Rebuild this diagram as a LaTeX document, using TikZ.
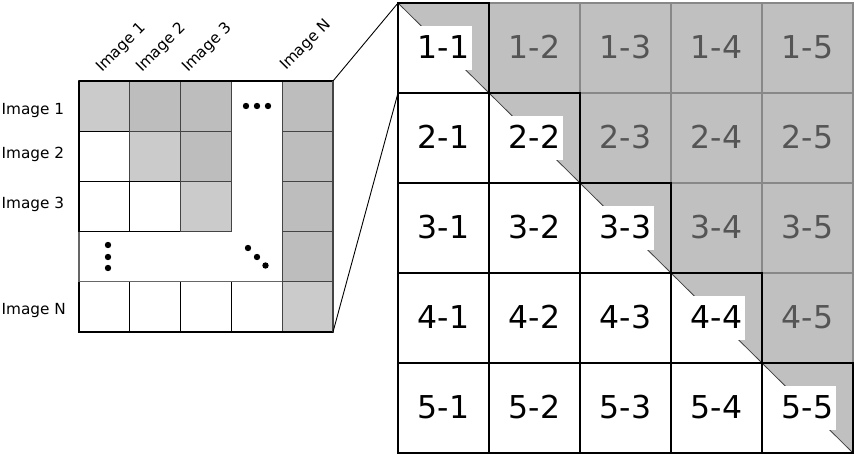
\documentclass[tikz,border=0pt]{standalone}
\usepackage{fontspec}
\setmainfont{DejaVu Sans}
\definecolor{upfill}{HTML}{C0C0C0}
\definecolor{upline}{HTML}{888888}
\definecolor{uptext}{HTML}{555555}
\definecolor{lightg}{HTML}{CBCBCB}
\definecolor{medg}{HTML}{BDBDBD}
\definecolor{lgline}{HTML}{444444}
\definecolor{emline}{HTML}{666666}
\begin{document}
\begin{tikzpicture}[x=1pt,y=-1pt,
  cellbox/.style={draw=none,minimum width=91pt,minimum height=90pt,inner sep=0pt,outer sep=0pt},
  bigtext/.style={font=\fontsize{31.5}{36}\selectfont,inner xsep=3pt,inner ysep=0pt,text height=32pt,text depth=12pt},
  lowtext/.style={bigtext,text=black},
  uptxt/.style={bigtext,text=uptext},
  diagtext/.style={bigtext,text=black,fill=white},
  upcell/.style={draw=upline,line width=2pt},
  lowcell/.style={draw=black,line width=2.4pt},
  diagline/.style={draw=black!75,line width=0.8pt},
  smalltext/.style={font=\fontsize{15.3}{18}\selectfont,inner sep=0pt,anchor=base west},
  conn/.style={draw=black,line width=0.9pt},
  dot/.style={fill=black}]
\useasboundingbox (0,0) rectangle (855,455);
\fill[white] (0,0) rectangle (855,455);

% ---------- left matrix ----------
\node[draw=none,inner sep=0pt,outer sep=0pt,minimum width=254pt,minimum height=251pt] (lm) at (206,206.5) {};
\foreach \i/\j/\c/\d in {
  1/1/lightg/lgline, 1/2/medg/lgline, 1/3/medg/lgline, 1/5/medg/lgline,
  2/1/white/black, 2/2/lightg/lgline, 2/3/medg/lgline, 2/5/medg/lgline,
  3/1/white/black, 3/2/white/black, 3/3/lightg/lgline, 3/5/medg/lgline,
  4/5/medg/lgline,
  5/1/white/black, 5/2/white/black, 5/3/white/black, 5/4/white/black, 5/5/lightg/lgline}{
  \pgfmathsetmacro\xa{79+50.8*(\j-1)}
  \pgfmathsetmacro\ya{81+50.2*(\i-1)}
  \filldraw[fill=\c,draw=\d,line width=1.2pt] (\xa,\ya) rectangle ++(50.8,50.2);
}
\draw[emline,line width=1.2pt] (79,231.6) -- (79,281.8) -- (282.2,281.8);
\draw[black,line width=1.3pt] (79,81) -- (333,81);
\draw[black,line width=1.3pt] (79,81) -- (79,231.6);
\draw[black,line width=1.3pt] (79,281.8) -- (79,332) -- (333,332);
\draw[lgline,line width=1.3pt] (333,81) -- (333,332);
% dots
\foreach \x in {246,257,268} \fill[dot] (\x,106) circle (3.2pt);
\foreach \y in {245,257,268} \fill[dot] (108,\y) circle (3.2pt);
\foreach \p in {248,257,265.5} \fill[dot] (\p,\p) circle (3.2pt);

% labels
\node[smalltext] (r1) at (1.5,114.5) {Image 1};
\node[smalltext] (r2) at (1.5,158) {Image 2};
\node[smalltext] (r3) at (1.5,208) {Image 3};
\node[smalltext] (rN) at (1.5,314) {Image N};
\node[smalltext,rotate=45] (k1) at (102,73) {Image 1};
\node[smalltext,rotate=45] (k2) at (142,73) {Image 2};
\node[smalltext,rotate=45] (k3) at (188,73) {Image 3};
\node[smalltext,rotate=45] (kN) at (286,71) {Image N};

% ---------- right grid ----------
\foreach \i in {1,...,5}{
  \foreach \j in {1,...,5}{
    \pgfmathsetmacro\xc{398+91*(\j-1)+45.5}
    \pgfmathsetmacro\yc{3+90*(\i-1)+45}
    \node[cellbox] (c\i\j) at (\xc,\yc) {};
  }
}
% upper cells
\foreach \i in {1,...,4}{
  \pgfmathtruncatemacro\js{\i+1}
  \foreach \j in {\js,...,5}{
    \fill[upfill] (c\i\j.north west) rectangle (c\i\j.south east);
    \draw[upcell] (c\i\j.north west) rectangle (c\i\j.south east);
  }
}
% diagonal cells
\foreach \i in {1,...,5}{
  \fill[upfill] (c\i\i.north west) -- (c\i\i.north east) -- (c\i\i.south east) -- cycle;
  \draw[diagline] (c\i\i.north west) -- (c\i\i.south east);
}
% lower + diagonal borders
\foreach \i in {1,...,5}{
  \foreach \j in {1,...,\i}{
    \draw[lowcell] (c\i\j.north west) rectangle (c\i\j.south east);
  }
}
% texts
\foreach \i in {1,...,5}{
  \foreach \j in {1,...,5}{
    \ifnum\j<\i
      \node[lowtext] (t\i\j) at (c\i\j.center) {\i-\j};
    \else\ifnum\j=\i
      \node[diagtext] (t\i\j) at (c\i\j.center) {\i-\j};
    \else
      \node[uptxt] (t\i\j) at (c\i\j.center) {\i-\j};
    \fi\fi
  }
}

% connectors
\draw[conn] (lm.north east) -- (c11.north west);
\draw[conn] (lm.south east) -- (c11.south west);
\end{tikzpicture}
\end{document}
